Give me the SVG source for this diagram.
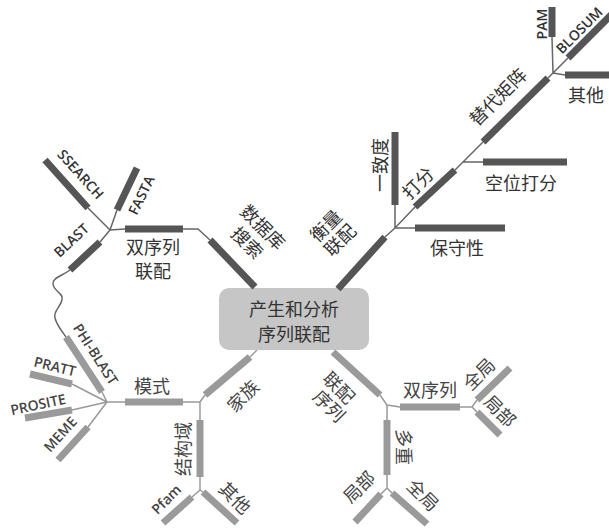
<svg xmlns="http://www.w3.org/2000/svg" width="609" height="530" viewBox="0 0 609 530">
<style>
.bd{stroke:#555;stroke-width:7;stroke-linecap:butt;fill:none}
.bl{stroke:#9a9a9a;stroke-width:7;stroke-linecap:butt;fill:none}
.ln{stroke:#666;stroke-width:1.5;fill:none}
.lnl{stroke:#999;stroke-width:1.5;fill:none}
.zh{font-family:"Noto Sans CJK SC","Noto Sans",sans-serif;font-size:18px;fill:#333;text-anchor:middle;dominant-baseline:central}
.zl{font-family:"Noto Sans CJK SC","Noto Sans",sans-serif;font-size:18px;fill:#444;text-anchor:middle;dominant-baseline:central}
.en{font-family:"Open Sans","Noto Sans",sans-serif;font-size:14px;font-weight:600;fill:#333;text-anchor:middle;dominant-baseline:central}
.el{font-family:"Open Sans","Noto Sans",sans-serif;font-size:14px;font-weight:600;fill:#444;text-anchor:middle;dominant-baseline:central}
</style>
<rect width="609" height="530" fill="#fff"/>
<g id="connectors">
<path class="ln" d="M210,240 L198,229 L183,229"/>
<path class="ln" d="M125,229 L110,230 M110,230 L88,208 M110,230 L117,210 M110,230 L100,242"/>
<path class="ln" d="M70,270 C62,276 52,278 53,284 C54,292 64,293 62,300 C60,308 53,311 55,318 C57,326 62,331 66,337"/>
<path class="ln" d="M385,237 L395,228 L415,207 M395,228 L395,205 M395,228 L415,228"/>
<path class="ln" d="M455,170 L463,162 L483,142 M463,162 L483,162"/>
<path class="ln" d="M548,78 L553,73 L568,58 M553,73 L552,37 M553,73 L565,75"/>
<path class="lnl" d="M257,350 L250,357"/>
<path class="lnl" d="M205,395 L200,402 L183,402 M200,402 L200,420"/>
<path class="lnl" d="M200,477 L200,490 L192,497 M200,490 L203,492"/>
<path class="lnl" d="M125,402 L107,402 L102,392 M107,402 L72,384 M107,402 L72,410 M107,402 L88,427"/>
<path class="lnl" d="M380,395 L387,405 L400,407 M387,405 L387,420"/>
<path class="lnl" d="M460,407 L472,407 L477,400 M472,407 L477,412"/>
<path class="lnl" d="M387,475 L387,488 L381,494 M387,488 L392,493"/>
</g>
<g id="center">
<rect x="219" y="288" width="150" height="62" rx="10" fill="#c6c6c6"/>
<text class="zh" x="294" y="308">产生和分析</text>
<text class="zh" x="294" y="333">序列联配</text>
</g>
<g id="n-dbsearch">
<line class="bd" x1="255" y1="287" x2="210" y2="240"/>
<g transform="translate(256,234) rotate(45)"><text class="zh" x="0" y="-11">数据库</text><text class="zh" x="0" y="11">搜索</text></g>
</g>
<g id="n-pairwise1">
<line class="bd" x1="125" y1="229" x2="183" y2="229"/>
<text class="zh" x="153" y="246">双序列</text>
<text class="zh" x="153" y="270">联配</text>
</g>
<g id="n-ssearch">
<line class="bd" x1="88" y1="208" x2="45" y2="160"/>
<text class="en" transform="translate(81,174) rotate(48)">SSEARCH</text>
</g>
<g id="n-fasta">
<line class="bd" x1="117" y1="210" x2="137" y2="168"/>
<text class="en" transform="translate(141,195) rotate(-64)">FASTA</text>
</g>
<g id="n-blast">
<line class="bd" x1="100" y1="242" x2="70" y2="270"/>
<text class="en" transform="translate(71,240) rotate(-43)">BLAST</text>
</g>
<g id="n-measure">
<line class="bd" x1="338" y1="289" x2="385" y2="237"/>
<g transform="translate(332,232) rotate(-45)"><text class="zh" x="0" y="-10">衡量</text><text class="zh" x="0" y="10">联配</text></g>
</g>
<g id="n-score">
<line class="bd" x1="415" y1="207" x2="455" y2="170"/>
<text class="zh" transform="translate(417,182) rotate(-45)">打分</text>
</g>
<g id="n-identity">
<line class="bd" x1="395" y1="132" x2="395" y2="205"/>
<text class="zh" transform="translate(379,165) rotate(-90)">一致度</text>
</g>
<g id="n-conservation">
<line class="bd" x1="415" y1="228" x2="505" y2="228"/>
<text class="zh" x="457" y="247">保守性</text>
</g>
<g id="n-matrix">
<line class="bd" x1="483" y1="142" x2="548" y2="78"/>
<text class="zh" transform="translate(497,96) rotate(-45)">替代矩阵</text>
</g>
<g id="n-gap">
<line class="bd" x1="483" y1="162" x2="567" y2="162"/>
<text class="zh" x="521" y="182">空位打分</text>
</g>
<g id="n-pam">
<line class="bd" x1="552" y1="7" x2="552" y2="37"/>
<text class="en" transform="translate(541,24) rotate(-90)">PAM</text>
</g>
<g id="n-blosum">
<line class="bd" x1="568" y1="58" x2="612" y2="14"/>
<text class="en" transform="translate(579,30) rotate(-45)">BLOSUM</text>
</g>
<g id="n-other1">
<line class="bd" x1="565" y1="75" x2="609" y2="75"/>
<text class="zh" x="586" y="94">其他</text>
</g>
<g id="n-family">
<line class="bl" x1="205" y1="395" x2="250" y2="357"/>
<text class="zl" transform="translate(242,395) rotate(-45)">家族</text>
</g>
<g id="n-motif">
<line class="bl" x1="125" y1="402" x2="183" y2="402"/>
<text class="zl" x="152" y="385">模式</text>
</g>
<g id="n-domain">
<line class="bl" x1="200" y1="420" x2="200" y2="477"/>
<text class="zl" transform="translate(182,449) rotate(-90)">结构域</text>
</g>
<g id="n-pfam">
<line class="bl" x1="192" y1="497" x2="163" y2="523"/>
<text class="el" transform="translate(166,499) rotate(-45)">Pfam</text>
</g>
<g id="n-other2">
<line class="bl" x1="203" y1="492" x2="237" y2="523"/>
<text class="zl" transform="translate(236,497) rotate(45)">其他</text>
</g>
<g id="n-phiblast">
<line class="bl" x1="66" y1="337" x2="102" y2="392"/>
<text class="el" transform="translate(96,354) rotate(57)">PHI-BLAST</text>
</g>
<g id="n-pratt">
<line class="bl" x1="30" y1="374" x2="72" y2="384"/>
<text class="el" transform="translate(55,366) rotate(14)">PRATT</text>
</g>
<g id="n-prosite">
<line class="bl" x1="25" y1="418" x2="72" y2="410"/>
<text class="el" transform="translate(38,404) rotate(-12)">PROSITE</text>
</g>
<g id="n-meme">
<line class="bl" x1="88" y1="427" x2="58" y2="460"/>
<text class="el" transform="translate(60,434) rotate(-48)">MEME</text>
</g>
<g id="n-seqalign">
<line class="bl" x1="333" y1="352" x2="380" y2="395"/>
<g transform="translate(335,396) rotate(45)"><text class="zl" x="-3" y="-10">联配</text><text class="zl" x="3" y="10">序列</text></g>
</g>
<g id="n-pairwise2">
<line class="bl" x1="400" y1="407" x2="460" y2="407"/>
<text class="zl" x="430" y="389">双序列</text>
</g>
<g id="n-global1">
<line class="bl" x1="477" y1="400" x2="510" y2="368"/>
<text class="zl" transform="translate(478,373) rotate(-45)">全局</text>
</g>
<g id="n-local1">
<line class="bl" x1="477" y1="412" x2="500" y2="435"/>
<text class="zl" transform="translate(501,410) rotate(45)">局部</text>
</g>
<g id="n-multiple">
<line class="bl" x1="387" y1="420" x2="387" y2="475"/>
<text class="zl" transform="translate(405,447) rotate(90)">多重</text>
</g>
<g id="n-local2">
<line class="bl" x1="381" y1="494" x2="355" y2="522"/>
<text class="zl" transform="translate(358,486) rotate(-45)">局部</text>
</g>
<g id="n-global2">
<line class="bl" x1="392" y1="493" x2="427" y2="524"/>
<text class="zl" transform="translate(424,494) rotate(45)">全局</text>
</g>
</svg>
